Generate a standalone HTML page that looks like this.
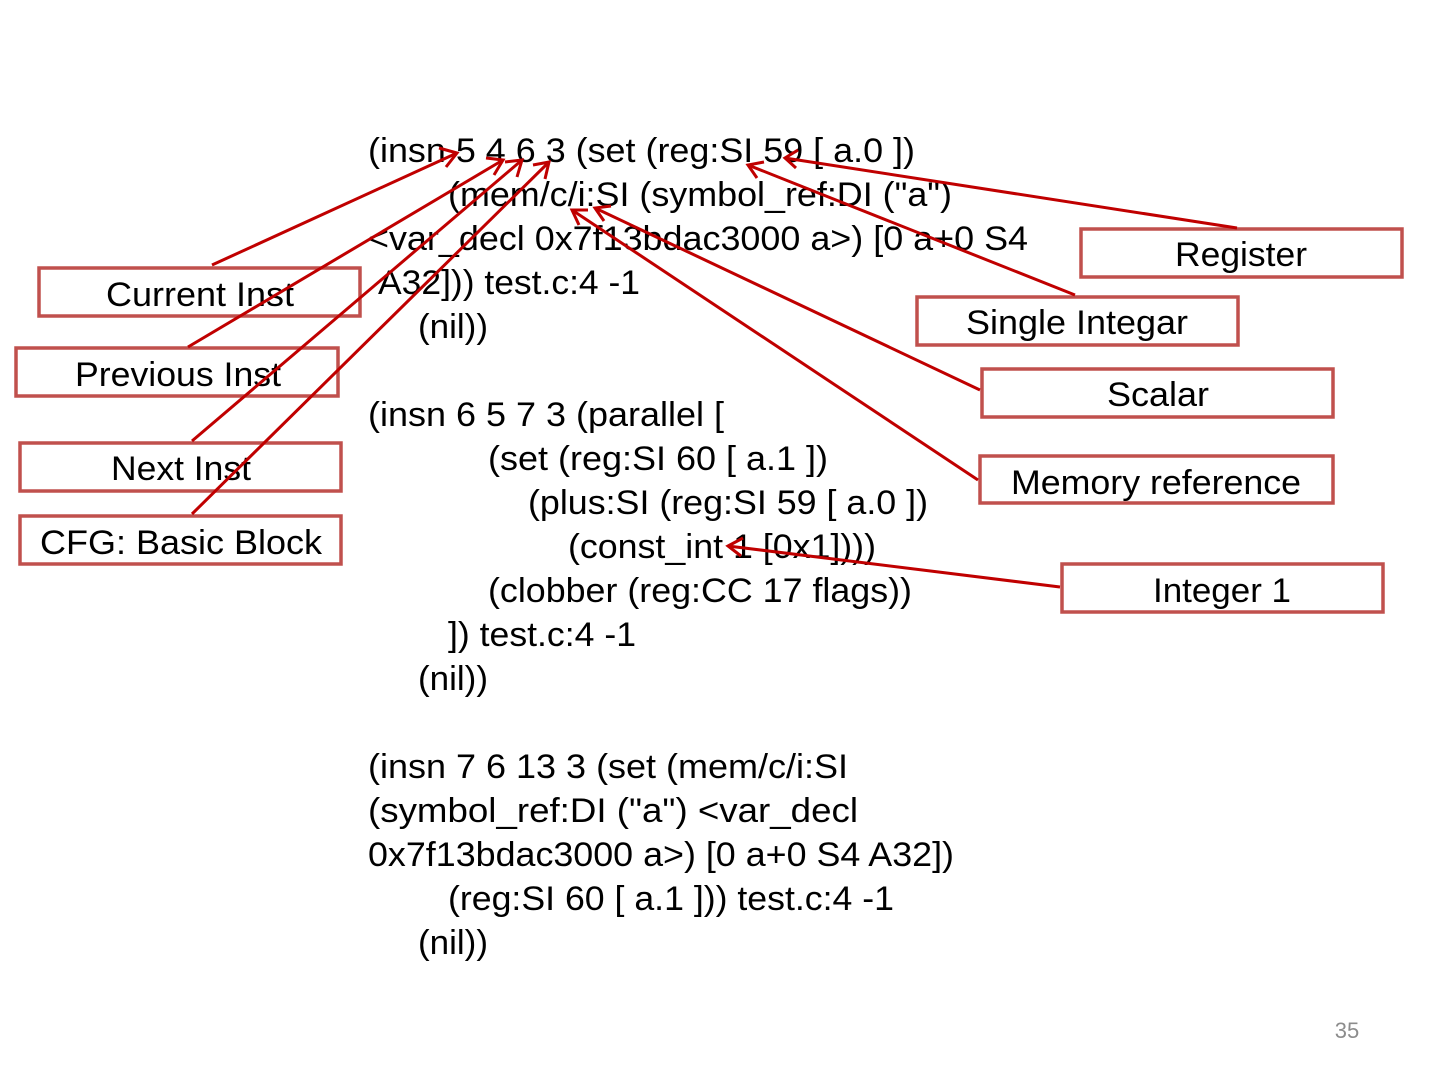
<!DOCTYPE html>
<html><head><meta charset="utf-8"><style>
html,body{margin:0;padding:0;background:#fff;}
svg{display:block;}
text{font-family:"Liberation Sans",Arial,sans-serif;fill:#000;}
</style></head><body>
<svg width="1440" height="1080" viewBox="0 0 1440 1080" xmlns="http://www.w3.org/2000/svg">
<g font-size="34">
<text x="368" y="162" textLength="547" lengthAdjust="spacingAndGlyphs">(insn 5 4 6 3 (set (reg:SI 59 [ a.0 ])</text>
<text x="448" y="206" textLength="504" lengthAdjust="spacingAndGlyphs">(mem/c/i:SI (symbol_ref:DI ("a")</text>
<text x="368" y="250" textLength="660" lengthAdjust="spacingAndGlyphs">&lt;var_decl 0x7f13bdac3000 a&gt;) [0 a+0 S4</text>
<text x="378" y="294" textLength="262" lengthAdjust="spacingAndGlyphs">A32])) test.c:4 -1</text>
<text x="418" y="338" textLength="70" lengthAdjust="spacingAndGlyphs">(nil))</text>
<text x="368" y="426" textLength="356" lengthAdjust="spacingAndGlyphs">(insn 6 5 7 3 (parallel [</text>
<text x="488" y="470" textLength="340" lengthAdjust="spacingAndGlyphs">(set (reg:SI 60 [ a.1 ])</text>
<text x="528" y="514" textLength="400" lengthAdjust="spacingAndGlyphs">(plus:SI (reg:SI 59 [ a.0 ])</text>
<text x="568" y="558" textLength="308" lengthAdjust="spacingAndGlyphs">(const_int 1 [0x1])))</text>
<text x="488" y="602" textLength="424" lengthAdjust="spacingAndGlyphs">(clobber (reg:CC 17 flags))</text>
<text x="448" y="646" textLength="188" lengthAdjust="spacingAndGlyphs">]) test.c:4 -1</text>
<text x="418" y="690" textLength="70" lengthAdjust="spacingAndGlyphs">(nil))</text>
<text x="368" y="778" textLength="480" lengthAdjust="spacingAndGlyphs">(insn 7 6 13 3 (set (mem/c/i:SI</text>
<text x="368" y="822" textLength="490" lengthAdjust="spacingAndGlyphs">(symbol_ref:DI ("a")  &lt;var_decl</text>
<text x="368" y="866" textLength="586" lengthAdjust="spacingAndGlyphs">0x7f13bdac3000 a&gt;) [0 a+0 S4 A32])</text>
<text x="448" y="910" textLength="446" lengthAdjust="spacingAndGlyphs">(reg:SI 60 [ a.1 ])) test.c:4 -1</text>
<text x="418" y="954" textLength="70" lengthAdjust="spacingAndGlyphs">(nil))</text>
</g>
<g fill="#fff" stroke="#c0504d" stroke-width="3.5">
<rect x="1081" y="229" width="321" height="48"/>
<rect x="917" y="297" width="321" height="48"/>
<rect x="982" y="369" width="351" height="48"/>
<rect x="980" y="456" width="353" height="47"/>
<rect x="1062" y="564" width="321" height="48"/>
<rect x="39" y="268" width="321" height="48"/>
<rect x="16" y="348" width="322" height="48"/>
<rect x="20" y="443" width="321" height="48"/>
<rect x="20" y="516" width="321" height="48"/>
</g>
<g font-size="34" text-anchor="middle">
<text x="1241" y="266" textLength="132" lengthAdjust="spacingAndGlyphs">Register</text>
<text x="1077" y="334" textLength="222" lengthAdjust="spacingAndGlyphs">Single Integar</text>
<text x="1158" y="406" textLength="102" lengthAdjust="spacingAndGlyphs">Scalar</text>
<text x="1156" y="494" textLength="290" lengthAdjust="spacingAndGlyphs">Memory reference</text>
<text x="1222" y="602" textLength="138" lengthAdjust="spacingAndGlyphs">Integer 1</text>
<text x="200" y="306" textLength="188" lengthAdjust="spacingAndGlyphs">Current Inst</text>
<text x="178" y="386" textLength="206" lengthAdjust="spacingAndGlyphs">Previous Inst</text>
<text x="181" y="480" textLength="140" lengthAdjust="spacingAndGlyphs">Next Inst</text>
<text x="181" y="554" textLength="282" lengthAdjust="spacingAndGlyphs">CFG: Basic Block</text>
</g>
<g stroke="#c00000" stroke-width="3" fill="none" stroke-linejoin="miter">
<line x1="212" y1="265" x2="457" y2="153"/>
<path d="M439,148 L457,153 L446,167"/>
<line x1="188" y1="347" x2="503" y2="160"/>
<path d="M486,158 L503,160 L494,175"/>
<line x1="192" y1="441" x2="522" y2="160"/>
<path d="M505,162 L522,160 L517,177"/>
<line x1="192" y1="514" x2="549" y2="162"/>
<path d="M533,165 L549,162 L545,179"/>
<line x1="1237" y1="228" x2="785" y2="158"/>
<path d="M798,150 L785,158 L796,168"/>
<line x1="1075" y1="295" x2="748" y2="165"/>
<path d="M764,162 L748,165 L757,178"/>
<line x1="980" y1="390" x2="595" y2="208"/>
<path d="M611,206 L595,208 L604,221"/>
<line x1="978" y1="480" x2="572" y2="210"/>
<path d="M588,210 L572,210 L579,225"/>
<line x1="1060" y1="587" x2="728" y2="546"/>
<path d="M743,538 L728,546 L741,556"/>
</g>
<text x="1347" y="1038" font-size="22" text-anchor="middle" style="fill:#8c8c8c">35</text>
</svg>
</body></html>
